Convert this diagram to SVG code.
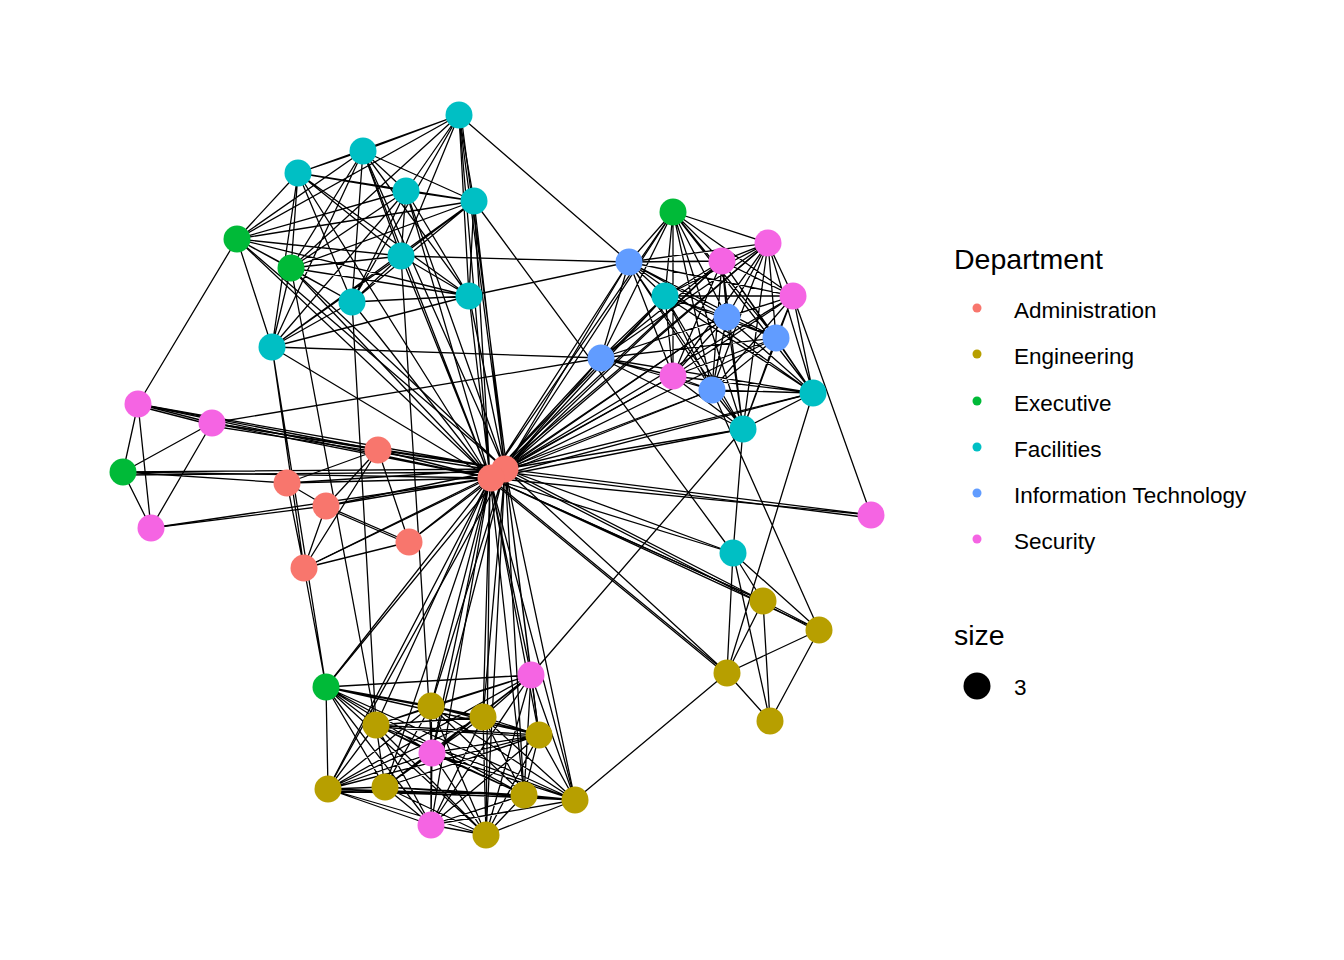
<svg xmlns="http://www.w3.org/2000/svg" width="1344" height="960" viewBox="0 0 1344 960">
<style>
.e{fill:none;stroke:#000;stroke-width:1.3}
.n{stroke:none}
.adm{fill:#F8766D}.eng{fill:#B79F00}.exe{fill:#00BA38}.fac{fill:#00BFC4}.it{fill:#619CFF}.sec{fill:#F564E3}
.t{font-family:"Liberation Sans",Arial,sans-serif;fill:#000}
.ttl{font-size:28.5px}.lab{font-size:22.5px}
</style>
<rect width="1344" height="960" fill="#fff"/>
<g id="connectors">
<path class="e" d="M490 478L459 115M490 478L363 151M490 478L298 173M490 478L406 191M490 478L474 201M490 478L401 256M490 478L469 296M490 478L352 302M490 478L272 347M490 478L237 239M490 478L291 268M490 478L138 404M490 478L212 423M490 478L123 472M490 478L151 528M490 478L378 450M490 478L287 483M490 478L326 506M490 478L409 542M490 478L304 568M490 478L629 262M490 478L727 317M490 478L776 338M490 478L601 358M490 478L712 390M490 478L768 243M490 478L722 261M490 478L793 296M490 478L673 376M490 478L665 296M490 478L813 393M490 478L743 429M490 478L673 212M490 478L871 515M490 478L733 553M490 478L763 601M490 478L819 630M490 478L727 673M490 478L326 687M490 478L431 706M490 478L376 725M490 478L483 717M490 478L539 735M490 478L328 789M490 478L385 787M490 478L524 795M490 478L575 800M490 478L486 835M490 478L531 675M490 478L432 753M490 478L431 825"/>
<path class="e" d="M505 469L459 115M507 470L461 115M505 469L474 201M505 469L469 296M505 469L406 191M505 469L291 268M505 469L237 239M505 469L138 404M505 469L212 423M505 472L212 426M505 469L123 472M505 472L123 475M505 469L378 450M505 469L287 483M505 469L326 506M505 469L409 542M505 469L304 568M505 469L629 262M505 469L601 358M505 469L673 376M505 469L665 296M505 469L712 390M505 469L743 429M505 469L813 393M505 469L722 261M505 469L871 515M505 472L871 518M505 469L733 553M505 469L763 601M505 472L763 604M505 469L727 673M505 469L326 687M505 469L431 706M505 469L483 717M505 469L539 735M505 469L524 795M505 469L486 835M505 469L531 675M505 469L432 753M505 469L575 800M505 469L328 789M505 469L673 212M505 469L768 243M505 469L727 317M505 469L363 151"/>
<path class="e" d="M459 115L363 151M459 115L298 173M459 115L406 191M459 115L474 201M459 115L401 256M459 115L469 296M459 115L352 302M459 115L237 239M459 115L291 268M363 151L298 173M363 151L406 191M363 151L474 201M363 151L401 256M363 151L469 296M363 151L352 302M363 151L237 239M363 151L291 268M363 151L272 347M298 173L406 191M298 173L474 201M298 173L401 256M298 173L469 296M298 173L352 302M298 173L237 239M298 173L291 268M298 173L272 347M406 191L474 201M406 191L401 256M406 191L469 296M406 191L352 302M406 191L237 239M406 191L291 268M406 191L272 347M474 201L401 256M474 201L469 296M474 201L352 302M474 201L237 239M474 201L291 268M474 201L272 347M401 256L469 296M401 256L352 302M401 256L237 239M401 256L291 268M401 256L272 347M469 296L352 302M469 296L237 239M469 296L291 268M469 296L272 347M352 302L237 239M352 302L291 268M352 302L272 347M237 239L291 268M237 239L272 347M291 268L272 347M363 151L401 256"/>
<path class="e" d="M673 212L768 243M673 212L722 261M673 212L629 262M673 212L793 296M673 212L665 296M673 212L727 317M673 212L776 338M673 212L601 358M673 212L673 376M673 212L712 390M673 212L813 393M673 212L743 429M768 243L722 261M768 243L629 262M768 243L793 296M768 243L665 296M768 243L727 317M768 243L776 338M768 243L601 358M768 243L673 376M768 243L712 390M768 243L813 393M768 243L743 429M722 261L629 262M722 261L793 296M722 261L665 296M722 261L727 317M722 261L776 338M722 261L601 358M722 261L673 376M722 261L712 390M722 261L813 393M722 261L743 429M629 262L793 296M629 262L665 296M629 262L727 317M629 262L776 338M629 262L601 358M629 262L673 376M629 262L712 390M629 262L813 393M629 262L743 429M793 296L665 296M793 296L727 317M793 296L776 338M793 296L601 358M793 296L673 376M793 296L712 390M793 296L813 393M793 296L743 429M665 296L727 317M665 296L776 338M665 296L601 358M665 296L673 376M665 296L712 390M665 296L813 393M665 296L743 429M727 317L776 338M727 317L601 358M727 317L673 376M727 317L712 390M727 317L813 393M727 317L743 429M776 338L601 358M776 338L673 376M776 338L712 390M776 338L813 393M776 338L743 429M601 358L673 376M601 358L712 390M601 358L813 393M601 358L743 429M673 376L712 390M673 376L813 393M673 376L743 429M712 390L813 393M712 390L743 429M813 393L743 429"/>
<path class="e" d="M326 687L531 675M326 687L431 706M326 687L483 717M326 687L376 725M326 687L539 735M326 687L432 753M326 687L385 787M326 687L328 789M326 687L524 795M326 687L575 800M326 687L431 825M326 687L486 835M531 675L431 706M531 675L483 717M531 675L376 725M531 675L539 735M531 675L432 753M531 675L385 787M531 675L328 789M531 675L524 795M531 675L575 800M531 675L431 825M531 675L486 835M431 706L483 717M431 706L376 725M431 706L539 735M431 706L432 753M431 706L385 787M431 706L328 789M431 706L524 795M431 706L575 800M431 706L431 825M431 706L486 835M483 717L376 725M483 717L539 735M483 717L432 753M483 717L385 787M483 717L328 789M483 717L524 795M483 717L575 800M483 717L431 825M483 717L486 835M376 725L539 735M376 725L432 753M376 725L385 787M376 725L328 789M376 725L524 795M376 725L575 800M376 725L431 825M376 725L486 835M539 735L432 753M539 735L385 787M539 735L328 789M539 735L524 795M539 735L575 800M539 735L431 825M539 735L486 835M432 753L385 787M432 753L328 789M432 753L524 795M432 753L575 800M432 753L431 825M432 753L486 835M385 787L328 789M385 787L524 795M385 787L575 800M385 787L431 825M385 787L486 835M328 789L524 795M328 789L575 800M328 789L431 825M328 789L486 835M524 795L575 800M524 795L431 825M524 795L486 835M575 800L431 825M575 800L486 835M431 825L486 835M328 791L524 797M376 727L539 737"/>
<path class="e" d="M237 239L138 404M138 404L212 423M138 406L212 425M138 404L123 472M138 404L151 528M123 472L212 423M123 472L151 528M212 423L151 528M212 423L601 358M138 404L378 450M212 423L378 450M151 528L326 506M123 472L287 483"/>
<path class="e" d="M378 450L304 568M378 450L409 542M378 450L326 506M287 483L326 506M287 483L378 450M326 506L409 542M326 508L409 544M304 568L326 506M304 568L409 542M304 568L326 687M272 347L304 568M272 347L326 687M287 483L304 568"/>
<path class="e" d="M459 115L629 262M401 256L629 262M469 296L629 262M474 201L733 553M352 302L376 725M291 268L376 725M401 256L432 753M272 347L601 358M793 296L871 515M813 393L727 673M712 390L819 630M743 429L531 675M727 673L575 800M733 553L763 601M733 553L819 630M733 553L727 673M733 553L770 721M763 601L819 630M763 601L727 673M763 601L770 721M819 630L727 673M819 630L770 721M727 673L770 721M763 603L819 632M733 553L743 429M490 478L763 601M490 480L727 675"/>
</g>
<g id="nodes">
<circle id="F1" class="n fac" cx="459" cy="115" r="13.5"/>
<circle id="F2" class="n fac" cx="363" cy="151" r="13.5"/>
<circle id="F3" class="n fac" cx="298" cy="173" r="13.5"/>
<circle id="F4" class="n fac" cx="406" cy="191" r="13.5"/>
<circle id="F5" class="n fac" cx="474" cy="201" r="13.5"/>
<circle id="F6" class="n fac" cx="401" cy="256" r="13.5"/>
<circle id="F7" class="n fac" cx="469" cy="296" r="13.5"/>
<circle id="F8" class="n fac" cx="352" cy="302" r="13.5"/>
<circle id="F9" class="n fac" cx="272" cy="347" r="13.5"/>
<circle id="E1" class="n exe" cx="237" cy="239" r="13.5"/>
<circle id="E2" class="n exe" cx="291" cy="268" r="13.5"/>
<circle id="E3" class="n exe" cx="673" cy="212" r="13.5"/>
<circle id="S1" class="n sec" cx="768" cy="243" r="13.5"/>
<circle id="S2" class="n sec" cx="722" cy="261" r="13.5"/>
<circle id="I1" class="n it" cx="629" cy="262" r="13.5"/>
<circle id="S3" class="n sec" cx="793" cy="296" r="13.5"/>
<circle id="F10" class="n fac" cx="665" cy="296" r="13.5"/>
<circle id="I2" class="n it" cx="727" cy="317" r="13.5"/>
<circle id="I3" class="n it" cx="776" cy="338" r="13.5"/>
<circle id="I4" class="n it" cx="601" cy="358" r="13.5"/>
<circle id="S4" class="n sec" cx="673" cy="376" r="13.5"/>
<circle id="I5" class="n it" cx="712" cy="390" r="13.5"/>
<circle id="F11" class="n fac" cx="813" cy="393" r="13.5"/>
<circle id="F12" class="n fac" cx="743" cy="429" r="13.5"/>
<circle id="S5" class="n sec" cx="138" cy="404" r="13.5"/>
<circle id="S6" class="n sec" cx="212" cy="423" r="13.5"/>
<circle id="E4" class="n exe" cx="123" cy="472" r="13.5"/>
<circle id="S7" class="n sec" cx="151" cy="528" r="13.5"/>
<circle id="A3" class="n adm" cx="378" cy="450" r="13.5"/>
<circle id="A4" class="n adm" cx="287" cy="483" r="13.5"/>
<circle id="A5" class="n adm" cx="326" cy="506" r="13.5"/>
<circle id="A6" class="n adm" cx="409" cy="542" r="13.5"/>
<circle id="A7" class="n adm" cx="304" cy="568" r="13.5"/>
<circle id="A2" class="n adm" cx="505" cy="469" r="13.5"/>
<circle id="A1" class="n adm" cx="491" cy="478" r="13.5"/>
<circle id="S8" class="n sec" cx="871" cy="515" r="13.5"/>
<circle id="F13" class="n fac" cx="733" cy="553" r="13.5"/>
<circle id="G1" class="n eng" cx="763" cy="601" r="13.5"/>
<circle id="G2" class="n eng" cx="819" cy="630" r="13.5"/>
<circle id="G3" class="n eng" cx="727" cy="673" r="13.5"/>
<circle id="G4" class="n eng" cx="770" cy="721" r="13.5"/>
<circle id="E5" class="n exe" cx="326" cy="687" r="13.5"/>
<circle id="S9" class="n sec" cx="531" cy="675" r="13.5"/>
<circle id="G5" class="n eng" cx="431" cy="706" r="13.5"/>
<circle id="G7" class="n eng" cx="483" cy="717" r="13.5"/>
<circle id="G6" class="n eng" cx="376" cy="725" r="13.5"/>
<circle id="G8" class="n eng" cx="539" cy="735" r="13.5"/>
<circle id="S10" class="n sec" cx="432" cy="753" r="13.5"/>
<circle id="G10" class="n eng" cx="385" cy="787" r="13.5"/>
<circle id="G9" class="n eng" cx="328" cy="789" r="13.5"/>
<circle id="G11" class="n eng" cx="524" cy="795" r="13.5"/>
<circle id="G12" class="n eng" cx="575" cy="800" r="13.5"/>
<circle id="S11" class="n sec" cx="431" cy="825" r="13.5"/>
<circle id="G13" class="n eng" cx="486" cy="835" r="13.5"/>
</g>
<g id="legend">
<text class="t ttl" x="954" y="269">Department</text>
<circle class="adm" cx="977" cy="308" r="4.5"/>
<circle class="eng" cx="977" cy="354" r="4.5"/>
<circle class="exe" cx="977" cy="401" r="4.5"/>
<circle class="fac" cx="977" cy="447" r="4.5"/>
<circle class="it" cx="977" cy="493" r="4.5"/>
<circle class="sec" cx="977" cy="539" r="4.5"/>
<text class="t lab" x="1014" y="318">Administration</text>
<text class="t lab" x="1014" y="364">Engineering</text>
<text class="t lab" x="1014" y="411">Executive</text>
<text class="t lab" x="1014" y="457">Facilities</text>
<text class="t lab" x="1014" y="503">Information Technology</text>
<text class="t lab" x="1014" y="549">Security</text>
<text class="t ttl" x="954" y="645">size</text>
<circle cx="977" cy="686" r="13.5" fill="#000"/>
<text class="t lab" x="1014" y="695">3</text>
</g>
</svg>
